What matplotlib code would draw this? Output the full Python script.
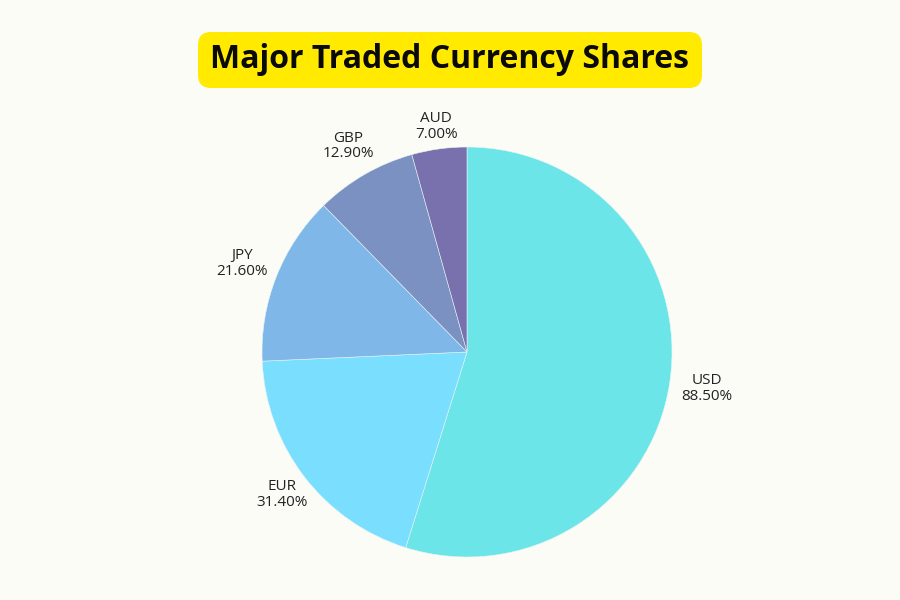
import numpy as np
import matplotlib

matplotlib.use("Agg")
import matplotlib.pyplot as plt
from matplotlib.patches import FancyBboxPatch

currencies = ["USD", "EUR", "JPY", "GBP", "AUD"]
shares = [88.5, 31.4, 21.6, 12.9, 7.0]
colors = ["#6ce5e8", "#7adfff", "#7fb8e8", "#7b91c2", "#7971ad"]

# how far out each label sits, in pie radii (tweaked by eye)
label_r = [1.185, 1.14, 1.18, 1.16, 1.11]

BG = "#fcfcf7"
INK = "#222222"

plt.rcParams["font.family"] = ["Open Sans", "DejaVu Sans"]

fig = plt.figure(figsize=(9, 6), dpi=100, facecolor=BG)

# ── title banner, drawn on a pixel-space overlay ──
ov = fig.add_axes([0, 0, 1, 1])
ov.set_xlim(0, 900)
ov.set_ylim(600, 0)
ov.axis("off")
ov.add_patch(
    FancyBboxPatch(
        (198, 32), 504, 56, boxstyle="round,pad=0,rounding_size=13",
        facecolor="#ffea00", edgecolor="none",
    ),
)
ov.text(
    450, 60, "Major Traded Currency Shares",
    ha="center", va="center", fontsize=23, fontweight="bold",
    color="#0a0a0a",
)

# ── pie centred at (467, 352) px with a 205 px radius ──
ax = fig.add_axes([(467 - 205) / 900, 1 - (352 + 205) / 600, 410 / 900, 410 / 600])
ax.set_facecolor(BG)

labels = [f"{c}\n{v:.2f}%" for c, v in zip(currencies, shares)]
wedges, texts = ax.pie(
    shares,
    labels=labels,
    colors=colors,
    startangle=90,
    counterclock=False,
    labeldistance=1.15,
    radius=1.0,
    wedgeprops={"edgecolor": "#e6f3f6", "linewidth": 0.4},
    textprops={"fontsize": 11, "color": INK},
)
for t, w, r in zip(texts, wedges, label_r):
    mid = np.deg2rad((w.theta1 + w.theta2) / 2)
    t.set_position((r * np.cos(mid), r * np.sin(mid)))
    t.set_ha("center")
    t.set_va("center")
    t.set_linespacing(1.05)
ax.set_xlim(-1, 1)
ax.set_ylim(-1, 1)
ax.set_aspect("equal")

fig.savefig("out.png", dpi=100, facecolor=BG)
